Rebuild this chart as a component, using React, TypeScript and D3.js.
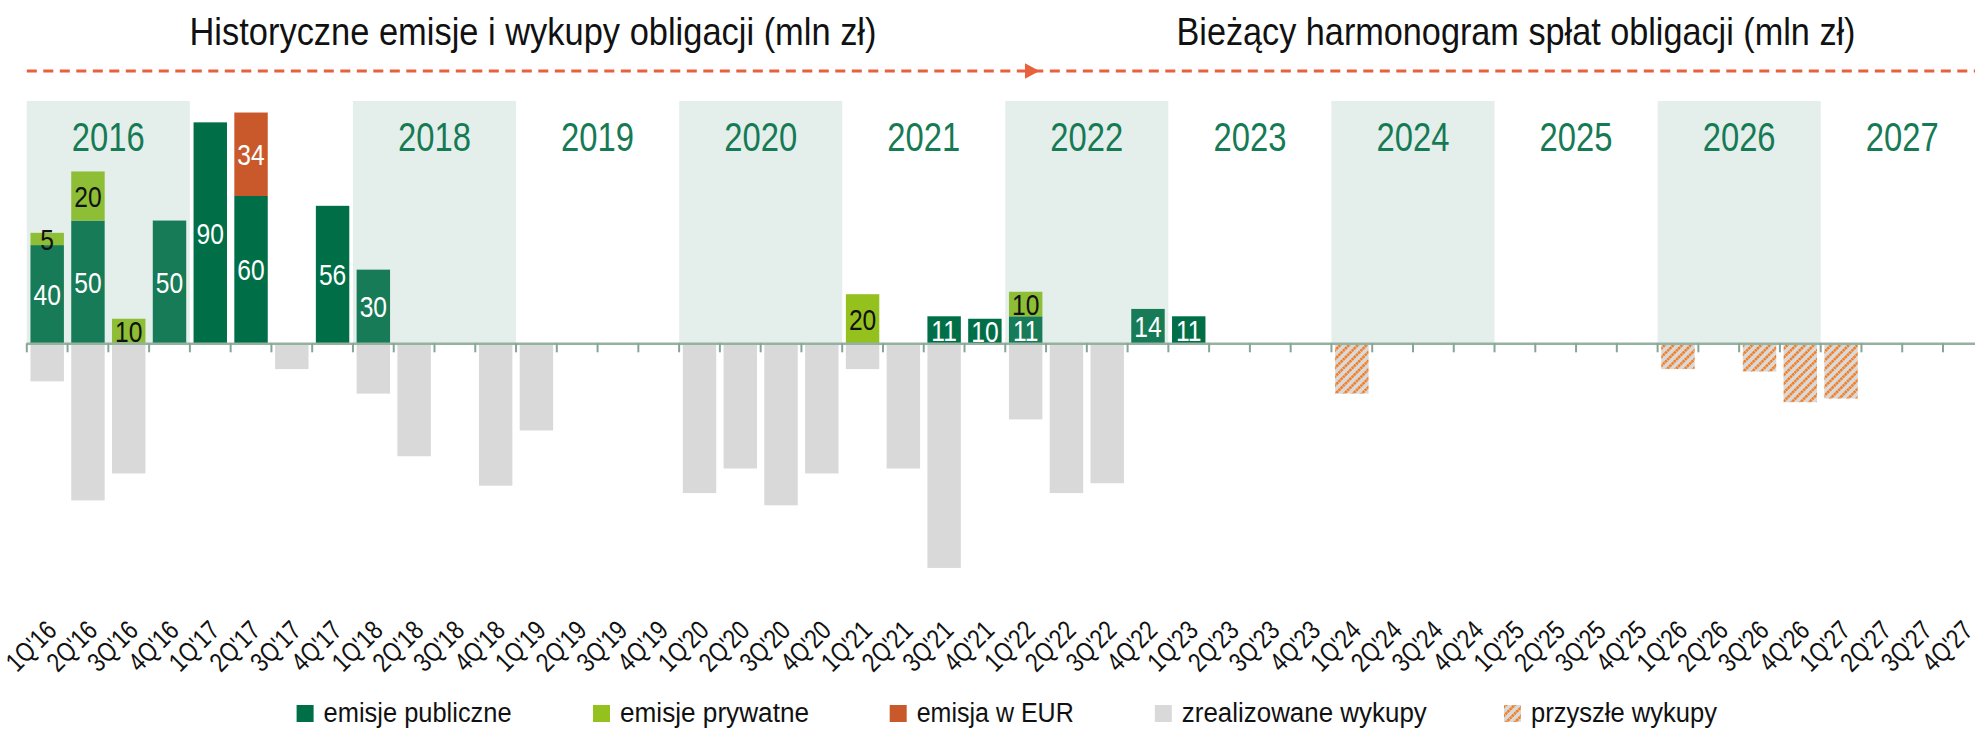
import React, { useMemo } from 'react';
import * as d3 from 'd3';

// data (mln zł)
const years = ['16', '17', '18', '19', '20', '21', '22', '23', '24', '25', '26', '27'];
const quarterNames = ['1Q', '2Q', '3Q', '4Q'];
const quarters = years.flatMap((y) => quarterNames.map((q) => `${q}'${y}`));

const bandYears = ['2016', '2017', '2018', '2019', '2020', '2021', '2022', '2023', '2024', '2025', '2026', '2027'];
const shadedYears = ['2016', '2018', '2020', '2022', '2024', '2026'];
const labelledYears = ['2016', '2018', '2019', '2020', '2021', '2022', '2023', '2024', '2025', '2026', '2027'];

const emisjePubliczne: [string, number][] = [
  ["1Q'16", 40], ["2Q'16", 50], ["4Q'16", 50], ["1Q'17", 90], ["2Q'17", 60], ["4Q'17", 56],
  ["1Q'18", 30], ["3Q'21", 11], ["4Q'21", 10], ["1Q'22", 11], ["4Q'22", 14], ["1Q'23", 11],
];
const emisjePrywatne: [string, number][] = [
  ["1Q'16", 5], ["2Q'16", 20], ["3Q'16", 10], ["1Q'21", 20], ["1Q'22", 10],
];
const emisjaEUR: [string, number][] = [["2Q'17", 34]];
const zrealizowaneWykupy: [string, number][] = [
  ["1Q'16", 15.5], ["2Q'16", 64], ["3Q'16", 53], ["3Q'17", 10.5], ["1Q'18", 20.5], ["2Q'18", 46],
  ["4Q'18", 58], ["1Q'19", 35.5], ["1Q'20", 61], ["2Q'20", 51], ["3Q'20", 66], ["4Q'20", 53],
  ["1Q'21", 10.5], ["2Q'21", 51], ["3Q'21", 91.5], ["1Q'22", 31], ["2Q'22", 61], ["3Q'22", 57],
];
const przyszleWykupy: [string, number][] = [
  ["1Q'24", 20.5], ["1Q'26", 10.5], ["3Q'26", 11.5], ["4Q'26", 24], ["1Q'27", 22.5],
];

const legendItems = [
  { label: 'emisje publiczne', fill: '#006f48' },
  { label: 'emisje prywatne', fill: '#95c11f' },
  { label: 'emisja w EUR', fill: '#c9592a' },
  { label: 'zrealizowane wykupy', fill: '#d9d9d9' },
  { label: 'przyszłe wykupy', fill: 'url(#hatch)' },
];

const W = 1975;
const H = 730;
const FONT = '"Liberation Sans", Arial, sans-serif';
const NARROW = 0.82; // Liberation Sans squeezed to a narrow face

// text drawn through a horizontal squeeze, anchored at (x, y)
const Narrow = ({ x, y, rotate = 0, sx = NARROW, children, ...rest }: any) => (
  <text transform={`translate(${x},${y}) rotate(${rotate}) scale(${sx},1)`} {...rest}>{children}</text>
);

const App = () => {
  const { x, y, step } = useMemo(() => {
    const xScale = d3.scaleBand<string>()
      .domain(quarters)
      .range([26.8, 26.8 + 48 * 40.77])
      .paddingInner(0.18)
      .paddingOuter(0.09);
    const yScale = d3.scaleLinear().domain([-100, 100]).range([343.3 + 245.5, 343.3 - 245.5]);
    return { x: xScale, y: yScale, step: xScale.step() };
  }, []);

  const bw = x.bandwidth();
  const qStart = (q: string) => (x(q) as number) - step * 0.09;
  const y0 = y(0);

  // stack upward segments: publiczne, prywatne, EUR
  const pubMap = new Map(emisjePubliczne);
  const prvMap = new Map(emisjePrywatne);
  const eurMap = new Map(emisjaEUR);
  const segments: { q: string; v: number; base: number; fill: string; text: string }[] = [];
  quarters.forEach((q) => {
    let base = 0;
    const p = pubMap.get(q);
    if (p) { segments.push({ q, v: p, base, fill: '#006f48', text: '#ffffff' }); base += p; }
    const pr = prvMap.get(q);
    if (pr) { segments.push({ q, v: pr, base, fill: '#95c11f', text: '#111111' }); base += pr; }
    const e = eurMap.get(q);
    if (e) { segments.push({ q, v: e, base, fill: '#c9592a', text: '#ffffff' }); base += e; }
  });

  const legendX = [296.6, 593, 889.7, 1154.8, 1504];
  const legendW = [188, 189, 157, 245, 186];

  return (
    <div>
      <style>{'body{margin:0}'}</style>
      <svg width={W} height={H} style={{ display: 'block', background: '#fff' }} fontFamily={FONT}>
        <defs>
          <pattern id="hatch" width="6.2" height="6.2" patternUnits="userSpaceOnUse" patternTransform="rotate(45)">
            <rect width="6.2" height="6.2" fill="#d9d9d9" />
            <line x1="1.2" y1="0" x2="1.2" y2="6.2" stroke="#f47a1c" strokeWidth="2.8" strokeDasharray="2.4 0.7" />
          </pattern>
        </defs>

        {/* titles */}
        <text x={533} y={45} textAnchor="middle" fontSize={39} fill="#111" textLength={687} lengthAdjust="spacingAndGlyphs">
          Historyczne emisje i wykupy obligacji (mln zł)
        </text>
        <text x={1516} y={45} textAnchor="middle" fontSize={39} fill="#111" textLength={679} lengthAdjust="spacingAndGlyphs">
          Bieżący harmonogram spłat obligacji (mln zł)
        </text>
        <line x1={26.8} x2={W} y1={71} y2={71} stroke="#e8603c" strokeWidth={3} strokeDasharray="10 6.5" />
        <polygon points="1025,63.3 1039.4,71 1025,78.7" fill="#e8603c" />

        {/* upward bars */}
        {segments.map((s, i) => (
          <rect key={`s${i}`} x={x(s.q)} y={y(s.base + s.v)} width={bw} height={y(s.base) - y(s.base + s.v)} fill={s.fill} />
        ))}

        {/* year bands, drawn as a translucent wash over the bars */}
        {bandYears.map((yr, i) => (
          shadedYears.includes(yr) ? (
            <rect key={`b${yr}`} x={qStart(quarters[i * 4])} y={101} width={step * 4} height={y0 - 101}
              fill="rgb(117,173,153)" fillOpacity={0.196} />
          ) : null
        ))}

        {/* downward bars */}
        {zrealizowaneWykupy.map(([q, v]) => (
          <rect key={`w${q}`} x={x(q)} y={y0 + 1.5} width={bw} height={y(-v) - y0 - 1.5} fill="#d9d9d9" />
        ))}
        {przyszleWykupy.map(([q, v]) => (
          <rect key={`p${q}`} x={x(q)} y={y0 + 1.5} width={bw} height={y(-v) - y0 - 1.5} fill="url(#hatch)" />
        ))}

        {/* axis */}
        <line x1={26.8} x2={W} y1={y0 + 0.5} y2={y0 + 0.5} stroke="#94b1a2" strokeWidth={2.5} />
        {quarters.map((q) => (
          <line key={`t${q}`} x1={qStart(q)} x2={qStart(q)} y1={y0} y2={y0 + 9} stroke="#86a594" strokeWidth={2} />
        ))}

        {/* year labels */}
        {bandYears.map((yr, i) => (
          labelledYears.includes(yr) ? (
            <Narrow key={`yl${yr}`} x={qStart(quarters[i * 4]) + step * 2} y={151} textAnchor="middle" fontSize={40} fill="#167a55">
              {yr}
            </Narrow>
          ) : null
        ))}

        {/* value labels */}
        {segments.map((s, i) => (
          <Narrow key={`l${i}`} x={(x(s.q) as number) + bw / 2} y={(y(s.base) + y(s.base + s.v)) / 2 + 10.8}
            textAnchor="middle" fontSize={30} fill={s.text}>
            {s.v}
          </Narrow>
        ))}

        {/* quarter labels */}
        {quarters.map((q) => (
          <Narrow key={`xl${q}`} x={(x(q) as number) + bw / 2 + 11} y={632} rotate={-45} textAnchor="end" fontSize={27} fill="#111">
            {q}
          </Narrow>
        ))}

        {/* legend */}
        {legendItems.map((it, i) => (
          <g key={`lg${i}`} transform={`translate(${legendX[i]},705)`}>
            <rect width={17} height={17} fill={it.fill} />
            <text x={27} y={17} fontSize={27} fill="#111" textLength={legendW[i]} lengthAdjust="spacingAndGlyphs">{it.label}</text>
          </g>
        ))}
      </svg>
    </div>
  );
};

export default App;
